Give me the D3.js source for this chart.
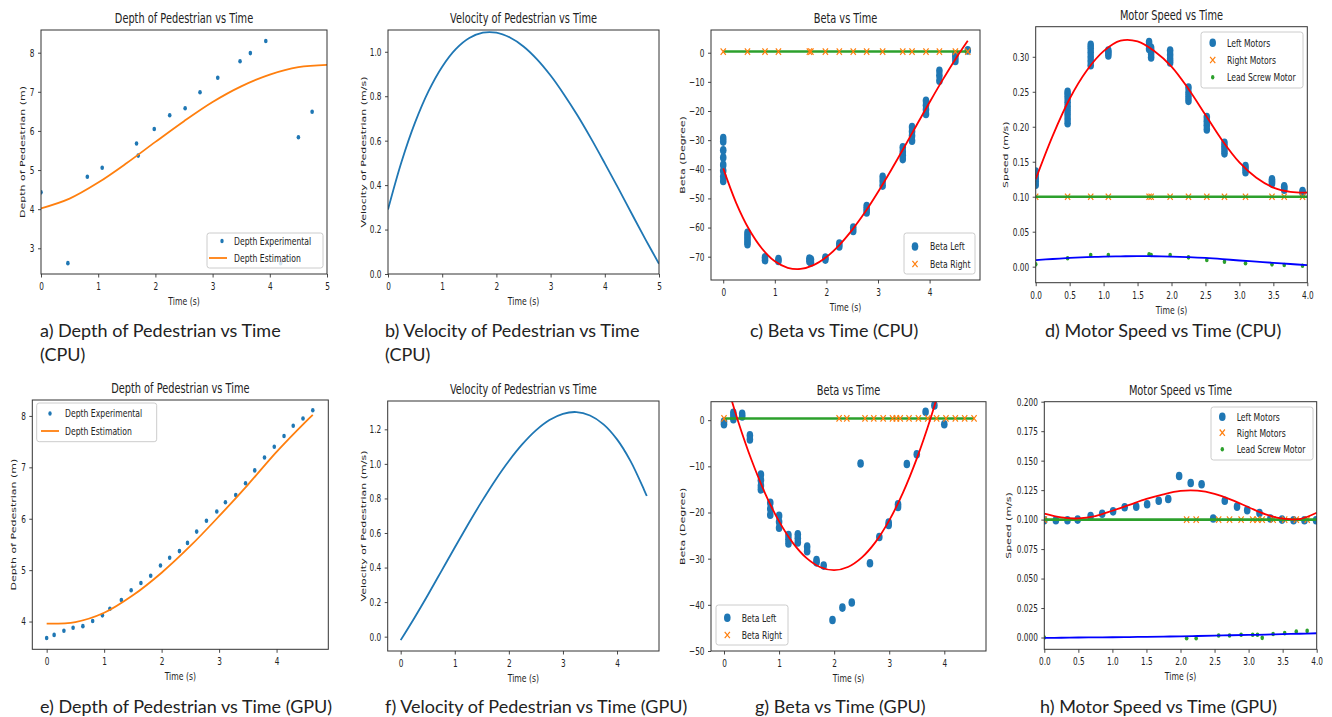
<!DOCTYPE html>
<html>
<head>
<meta charset="utf-8">
<script src="https://cdn.jsdelivr.net/npm/d3@7"></script>
<style>
  body { margin: 0; background: #fff; }
  svg text { font-family: "DejaVu Sans", sans-serif; fill: #222; }
  svg text.cap { font-family: Lato, "Open Sans", sans-serif; fill: #222; }
</style>
</head>
<body>
<svg id="fig" width="1332" height="717"></svg>
<script>
// ---------- a) Depth of Pedestrian vs Time (CPU) ----------
const cpuDepthTime = [0, 0.47, 0.81, 1.07, 1.67, 1.70, 1.98, 2.25, 2.52, 2.78, 3.09, 3.48, 3.66, 3.93, 4.19, 4.50, 4.74];
const cpuDepthMeasured = [4.43, 2.62, 4.83, 5.06, 5.68, 5.37, 6.05, 6.40, 6.58, 6.99, 7.36, 7.78, 7.99, 8.30, 2.62, 5.84, 6.49];
const cpuEstTime = [0, 0.5, 1, 1.5, 2, 2.5, 3, 3.5, 4, 4.5, 5];
const cpuDepthEstimate = [4.02, 4.27, 4.68, 5.18, 5.72, 6.25, 6.74, 7.14, 7.44, 7.63, 7.69];

// ---------- b) Velocity of Pedestrian vs Time (CPU) ----------
const cpuVelTime = [0, 0.25, 0.5, 0.75, 1, 1.25, 1.5, 1.75, 2, 2.25, 2.5, 2.75, 3, 3.25, 3.5, 3.75, 4, 4.25, 4.5, 4.75, 5];
const cpuVelocity = [0.290, 0.505, 0.682, 0.824, 0.933, 1.012, 1.062, 1.086, 1.086, 1.064, 1.024, 0.966, 0.893, 0.807, 0.712, 0.608, 0.498, 0.385, 0.270, 0.156, 0.046];

// ---------- c) Beta vs Time (CPU) ----------
const cpuBetaTime = [0, 0.47, 0.81, 1.07, 1.67, 1.70, 1.98, 2.25, 2.52, 2.78, 3.09, 3.48, 3.66, 3.93, 4.19, 4.50, 4.74];
const cpuBetaLeft = [
  [-29.3, -30.5, -33.5, -36, -38.5, -40.5, -42.5, -44],
  [-61.8, -62.8, -63.8, -64.8, -65.7],
  [-70.2, -71.2],
  [-70.8, -71.5],
  [-70.6, -71.6],
  [-71, -72],
  [-70.3, -71],
  [-65.5, -66.5],
  [-60, -61.2],
  [-52.6, -53.7, -54.8],
  [-42.6, -44, -45.6],
  [-32.5, -34, -35.2, -36.5],
  [-25.5, -27, -28.5, -30.2],
  [-16.5, -18, -19.5, -21],
  [-6.2, -7.8, -9.6],
  [-0.5, -1.5, -2.8],
  [0.8]
];
const cpuBetaRight = [0.4, 0.4, 0.4, 0.4, 0.4, 0.4, 0.4, 0.4, 0.4, 0.4, 0.4, 0.4, 0.4, 0.4, 0.4, 0.4, 0.4];
const cpuBetaFitTime = [0, 0.25, 0.5, 0.75, 1, 1.25, 1.5, 1.75, 2, 2.25, 2.5, 2.75, 3, 3.25, 3.5, 3.75, 4, 4.25, 4.5, 4.74];
const cpuBetaLeftFit = [-39.7, -51.5, -60.6, -67.2, -71.6, -73.8, -74.2, -72.9, -70.1, -66.0, -60.8, -54.7, -47.8, -40.4, -32.7, -24.8, -17.0, -9.4, -2.2, 4.1];
const cpuBetaRightFitTime = [0, 4.74];
const cpuBetaRightFit = [0.4, 0.4];

// ---------- d) Motor Speed vs Time (CPU) ----------
const cpuMotorTime = [0, 0.47, 0.81, 1.07, 1.67, 1.70, 1.98, 2.25, 2.52, 2.78, 3.09, 3.48, 3.66, 3.93];
const cpuLeftMotor = [
  [0.117, 0.122, 0.127, 0.132, 0.136],
  [0.205, 0.211, 0.217, 0.223, 0.229, 0.235, 0.241, 0.246, 0.250],
  [0.288, 0.294, 0.300, 0.306, 0.312, 0.317],
  [0.302, 0.306, 0.309],
  [0.311, 0.316, 0.321],
  [0.299, 0.304, 0.309, 0.313],
  [0.292, 0.297, 0.303, 0.309],
  [0.237, 0.243, 0.249, 0.256],
  [0.196, 0.202, 0.208, 0.214],
  [0.162, 0.167, 0.172, 0.177],
  [0.135, 0.140, 0.144],
  [0.119, 0.122, 0.125],
  [0.110, 0.113, 0.115],
  [0.106, 0.108]
];
const cpuRightMotor = [0.1, 0.1, 0.1, 0.1, 0.1, 0.1, 0.1, 0.1, 0.1, 0.1, 0.1, 0.1, 0.1, 0.1];
const cpuLeadScrew = [0.0033, 0.0120, 0.0167, 0.0167, 0.0176, 0.0167, 0.0167, 0.0133, 0.0095, 0.0071, 0.0048, 0.0033, 0.0024, 0.0014];
const cpuMotorFitTime = [0, 0.25, 0.5, 0.75, 1, 1.25, 1.5, 1.75, 2, 2.25, 2.5, 2.75, 3, 3.25, 3.5, 3.75, 4];
const cpuLeftMotorFit = [0.125, 0.187, 0.240, 0.280, 0.308, 0.323, 0.322, 0.308, 0.286, 0.254, 0.217, 0.180, 0.149, 0.127, 0.113, 0.107, 0.106];
const cpuRightMotorFit = [0.1, 0.1, 0.1, 0.1, 0.1, 0.1, 0.1, 0.1, 0.1, 0.1, 0.1, 0.1, 0.1, 0.1, 0.1, 0.1, 0.1];
const cpuLeadScrewFit = [0.0095, 0.0110, 0.0125, 0.0136, 0.0143, 0.0148, 0.0150, 0.0149, 0.0145, 0.0137, 0.0125, 0.0108, 0.0088, 0.0072, 0.0055, 0.0038, 0.0022];

// ---------- e) Depth of Pedestrian vs Time (GPU) ----------
const gpuDepthTime = [0, 0.13, 0.30, 0.46, 0.63, 0.80, 0.97, 1.10, 1.30, 1.47, 1.64, 1.81, 1.98, 2.14, 2.31, 2.45, 2.61, 2.78, 2.96, 3.11, 3.29, 3.46, 3.62, 3.79, 3.96, 4.13, 4.29, 4.46, 4.63];
const gpuDepthMeasured = [3.68, 3.74, 3.82, 3.88, 3.91, 4.01, 4.12, 4.25, 4.42, 4.61, 4.75, 4.89, 5.09, 5.24, 5.37, 5.53, 5.75, 5.96, 6.14, 6.32, 6.46, 6.69, 6.94, 7.19, 7.40, 7.61, 7.81, 7.95, 8.11];
const gpuEstTime = [0, 0.5, 1, 1.5, 2, 2.5, 3, 3.5, 4, 4.5, 4.63];
const gpuDepthEstimate = [3.96, 3.99, 4.17, 4.51, 4.95, 5.47, 6.05, 6.66, 7.30, 7.88, 8.02];

// ---------- f) Velocity of Pedestrian vs Time (GPU) ----------
const gpuVelTime = [0, 0.25, 0.5, 0.75, 1, 1.25, 1.5, 1.75, 2, 2.25, 2.5, 2.75, 3, 3.25, 3.5, 3.75, 4, 4.25, 4.5, 4.55];
const gpuVelocity = [-0.020, 0.107, 0.240, 0.378, 0.516, 0.652, 0.783, 0.906, 1.017, 1.114, 1.194, 1.254, 1.290, 1.300, 1.280, 1.229, 1.142, 1.016, 0.850, 0.814];

// ---------- g) Beta vs Time (GPU) ----------
const gpuBetaTime = [0, 0.17, 0.33, 0.47, 0.67, 0.84, 1.00, 1.17, 1.34, 1.51, 1.68, 1.81, 1.97, 2.15, 2.32, 2.48, 2.65, 2.82, 2.99, 3.16, 3.32, 3.50, 3.66, 3.82, 4.00];
const gpuBetaLeft = [
  [-0.3, -0.9], [0.2, 0.9, 1.6], [0.8, 1.4], [-3.3, -4.2], [-11.8, -13, -14.2, -15],
  [-17.9, -19.2, -20.5], [-20.7, -22, -23.3], [-24.9, -25.8, -26.7], [-24.7, -25.6, -26.5],
  [-27.4, -28.4], [-30.3, -30.8], [-31.5], [-43.3], [-40.6], [-39.5], [-9.4], [-31], [-25.3],
  [-22.2, -22.7], [-18.2, -18.8], [-9.5], [-7.4], [1.8], [3.2], [-0.9]
];
const gpuRightTime = [0, 2.09, 2.23, 2.56, 2.72, 2.89, 3.06, 3.13, 3.20, 3.36, 3.53, 3.70, 3.86, 4.03, 4.20, 4.37, 4.54];
const gpuBetaRight = [0.4, 0.4, 0.4, 0.4, 0.4, 0.4, 0.4, 0.4, 0.4, 0.4, 0.4, 0.4, 0.4, 0.4, 0.4, 0.4, 0.4];
const gpuBetaFitTime = [0, 0.25, 0.5, 0.75, 1, 1.25, 1.5, 1.75, 2, 2.25, 2.5, 2.75, 3, 3.25, 3.5, 3.75, 4];
const gpuBetaLeftFit = [9.98, 0, -8.64, -15.95, -21.93, -26.57, -29.88, -31.85, -32.49, -31.80, -29.77, -26.41, -21.71, -15.68, -8.32, 0.37, 10.40];
const gpuBetaRightFitTime = [0, 4.54];
const gpuBetaRightFit = [0.35, 0.35];

// ---------- h) Motor Speed vs Time (GPU) ----------
const gpuMotorTime = [0, 0.17, 0.34, 0.49, 0.68, 0.85, 1.01, 1.18, 1.35, 1.51, 1.68, 1.82, 1.98, 2.15, 2.31, 2.48, 2.65, 2.83, 2.98, 3.16, 3.32, 3.49, 3.66, 3.82, 3.99];
const gpuLeftMotor = [0.0994, 0.0995, 0.0995, 0.1000, 0.1030, 0.1050, 0.1070, 0.1105, 0.1110, 0.1130, 0.1160, 0.1175, 0.1370, 0.1310, 0.1300, 0.1010, 0.1160, 0.1110, 0.1080, 0.1055, 0.1010, 0.1000, 0.0995, 0.0995, 0.0995];
const gpuMotorRightTime = [0, 2.09, 2.23, 2.56, 2.72, 2.89, 3.06, 3.13, 3.20, 3.36, 3.53, 3.70, 3.86];
const gpuRightMotor = [0.1, 0.1, 0.1, 0.1, 0.1, 0.1, 0.1, 0.1, 0.1, 0.1, 0.1, 0.1, 0.1];
const gpuLeadScrew = [0.0000, -0.0006, -0.0006, 0.0017, 0.0017, 0.0023, 0.0023, 0.0023, -0.0003, 0.0030, 0.0037, 0.0051, 0.0056];
const gpuMotorFitTime = [0, 0.25, 0.5, 0.75, 1, 1.25, 1.5, 1.75, 2, 2.25, 2.5, 2.75, 3, 3.25, 3.5, 3.75, 4];
const gpuLeftMotorFit = [0.1050, 0.1018, 0.1010, 0.1030, 0.1075, 0.1125, 0.1175, 0.1215, 0.1243, 0.1245, 0.1218, 0.1168, 0.1105, 0.1045, 0.1008, 0.1005, 0.1058];
const gpuRightMotorFit = [0.1, 0.1, 0.1, 0.1, 0.1, 0.1, 0.1, 0.1, 0.1, 0.1, 0.1, 0.1, 0.1, 0.1, 0.1, 0.1, 0.1];
const gpuLeadScrewFit = [-0.0003, -0.0002, 0.0000, 0.0001, 0.0002, 0.0004, 0.0006, 0.0008, 0.0010, 0.0013, 0.0016, 0.0019, 0.0022, 0.0025, 0.0029, 0.0032, 0.0036];

// ---------- tick values ----------
const depthCpuYTicks = [3, 4, 5, 6, 7, 8];
const depthGpuYTicks = [4, 5, 6, 7, 8];
const velCpuYTicks = [0, 0.2, 0.4, 0.6, 0.8, 1.0];
const velGpuYTicks = [0, 0.2, 0.4, 0.6, 0.8, 1.0, 1.2];
const betaCpuYTicks = [-70, -60, -50, -40, -30, -20, -10, 0];
const betaGpuYTicks = [-50, -40, -30, -20, -10, 0];
const speedCpuYTicks = [0, 0.05, 0.10, 0.15, 0.20, 0.25, 0.30];
const speedGpuYTicks = [0, 0.025, 0.05, 0.075, 0.1, 0.125, 0.15, 0.175, 0.2];
const timeTicks5 = [0, 1, 2, 3, 4, 5];
const timeTicks4 = [0, 1, 2, 3, 4];
const timeTicksHalf = [0, 0.5, 1, 1.5, 2, 2.5, 3, 3.5, 4];

// ---------- captions ----------
const captions = [
  ["a) Depth of Pedestrian vs Time", "(CPU)"],
  ["b) Velocity of Pedestrian vs Time", "(CPU)"],
  ["c) Beta vs Time (CPU)"],
  ["d) Motor Speed vs Time (CPU)"],
  ["e) Depth of Pedestrian vs Time (GPU)"],
  ["f) Velocity of Pedestrian vs Time (GPU)"],
  ["g) Beta vs Time (GPU)"],
  ["h) Motor Speed vs Time (GPU)"]
];

// ================= drawing =================
const BLUE = "#1f77b4", ORANGE = "#ff7f0e", GREEN = "#2ca02c", RED = "#ff0000", PURE_BLUE = "#0000ff";
const SX = 0.7;           // horizontal text compression of the figure
const svg = d3.select("#fig");
let clipCount = 0;

function mtext(parent, x, y, str, size, anchor, rotate) {
  return parent.append("text")
    .attr("transform", `translate(${x},${y}) scale(${SX},1)${rotate ? " rotate(-90)" : ""}`)
    .attr("text-anchor", anchor || "middle")
    .attr("font-size", size)
    .text(str);
}

function makePanel(o) {
  const g = svg.append("g");
  const x = d3.scaleLinear().domain(o.xDomain).range([o.left, o.right]);
  const y = d3.scaleLinear().domain(o.yDomain).range([o.bottom, o.top]);
  const id = "clip" + (clipCount++);
  g.append("clipPath").attr("id", id).append("rect")
    .attr("x", o.left).attr("y", o.top)
    .attr("width", o.right - o.left).attr("height", o.bottom - o.top);
  const plot = g.append("g").attr("clip-path", `url(#${id})`);

  const xa = g.append("g").attr("transform", `translate(0,${o.bottom})`)
    .call(d3.axisBottom(x).tickValues(o.xTicks).tickFormat(d3.format(o.xFmt)).tickSize(3.5).tickPadding(5));
  const ya = g.append("g").attr("transform", `translate(${o.left},0)`)
    .call(d3.axisLeft(y).tickValues(o.yTicks).tickFormat(d3.format(o.yFmt)).tickSize(3).tickPadding(6));
  [xa, ya].forEach(a => {
    a.select(".domain").remove();
    a.attr("font-family", null).attr("font-size", null);
    a.selectAll("line").attr("stroke", "#333").attr("stroke-width", 0.9);
    a.selectAll("text").attr("font-size", 10.5).attr("fill", "#222");
  });
  xa.selectAll("text").attr("transform", `scale(${SX},1)`);
  ya.selectAll("text").attr("transform", `scale(${SX},1)`).attr("x", -6.5 / SX);

  g.append("rect").attr("x", o.left).attr("y", o.top)
    .attr("width", o.right - o.left).attr("height", o.bottom - o.top)
    .attr("fill", "none").attr("stroke", "#333").attr("stroke-width", 1);

  mtext(g, (o.left + o.right) / 2, o.top - 7, o.title, 14, "middle");
  mtext(g, (o.left + o.right) / 2, o.bottom + 31, "Time (s)", 11, "middle");
  mtext(g, o.yLabelX, (o.top + o.bottom) / 2, o.yLabel, 11, "middle", true).attr("dy", "0.35em");

  const leg = g.append("g");
  return { g, plot, leg, x, y };
}

function linePath(p, xs, ys, color, width) {
  const pts = xs.map((t, i) => [t, ys[i]]);
  p.plot.append("path").datum(pts)
    .attr("d", d3.line().x(d => p.x(d[0])).y(d => p.y(d[1])).curve(d3.curveCatmullRom.alpha(0.5)))
    .attr("fill", "none").attr("stroke", color).attr("stroke-width", width)
    .attr("stroke-linecap", "butt");
}

function dots(p, xs, ys, color, rx, ry) {
  const pts = xs.map((t, i) => [t, ys[i]]);
  p.plot.selectAll(null).data(pts).enter().append("ellipse")
    .attr("cx", d => p.x(d[0])).attr("cy", d => p.y(d[1]))
    .attr("rx", rx).attr("ry", ry).attr("fill", color);
}

function clusterDots(p, xs, groups, color) {
  const pts = [];
  xs.forEach((t, i) => groups[i].forEach(v => pts.push([t, v])));
  p.plot.selectAll(null).data(pts).enter().append("ellipse")
    .attr("cx", d => p.x(d[0])).attr("cy", d => p.y(d[1]))
    .attr("rx", 3.3).attr("ry", 4.3).attr("fill", color);
}

function crossPath(cx, cy) {
  const hx = 2.6, hy = 3.2;
  return `M${cx - hx},${cy - hy}L${cx + hx},${cy + hy}M${cx - hx},${cy + hy}L${cx + hx},${cy - hy}`;
}

function crosses(p, xs, ys, color) {
  const pts = xs.map((t, i) => [t, ys[i]]);
  p.plot.selectAll(null).data(pts).enter().append("path")
    .attr("d", d => crossPath(p.x(d[0]), p.y(d[1])))
    .attr("stroke", color).attr("stroke-width", 1.2).attr("fill", "none");
}

function legend(p, box, items) {
  p.leg.append("rect").attr("x", box[0]).attr("y", box[1])
    .attr("width", box[2] - box[0]).attr("height", box[3] - box[1])
    .attr("rx", 2.5).attr("fill", "#fff").attr("fill-opacity", 0.8)
    .attr("stroke", "#cccccc").attr("stroke-width", 1);
  items.forEach(it => {
    if (it.kind === "circle") {
      p.leg.append("ellipse").attr("cx", it.mx).attr("cy", it.y).attr("rx", 3.3).attr("ry", 4.3).attr("fill", it.color);
    } else if (it.kind === "dot") {
      p.leg.append("ellipse").attr("cx", it.mx).attr("cy", it.y).attr("rx", 1.7).attr("ry", 2.3).attr("fill", it.color);
    } else if (it.kind === "cross") {
      p.leg.append("path").attr("d", crossPath(it.mx, it.y)).attr("stroke", it.color).attr("stroke-width", 1.2);
    } else if (it.kind === "line") {
      p.leg.append("line").attr("x1", it.mx - 9).attr("x2", it.mx + 9).attr("y1", it.y).attr("y2", it.y)
        .attr("stroke", it.color).attr("stroke-width", 1.8);
    }
    mtext(p.leg, it.tx, it.y, it.label, 11, "start").attr("dy", "0.35em");
  });
}

// ---- a ----
const pa = makePanel({
  left: 41, right: 327, top: 30, bottom: 274,
  xDomain: [0, 5], yDomain: [2.343, 8.58],
  xTicks: timeTicks5, yTicks: depthCpuYTicks, xFmt: "d", yFmt: "d",
  title: "Depth of Pedestrian vs Time", yLabel: "Depth of Pedestrian (m)", yLabelX: 22
});
dots(pa, cpuDepthTime, cpuDepthMeasured, BLUE, 1.8, 2.3);
linePath(pa, cpuEstTime, cpuDepthEstimate, ORANGE, 1.8);
legend(pa, [207, 233, 323, 268], [
  { kind: "dot", color: BLUE, mx: 222, y: 241, tx: 234, label: "Depth Experimental" },
  { kind: "line", color: ORANGE, mx: 218, y: 258, tx: 234, label: "Depth Estimation" }
]);

// ---- b ----
const pb = makePanel({
  left: 388, right: 659, top: 30, bottom: 274,
  xDomain: [0, 5], yDomain: [0, 1.098],
  xTicks: timeTicks5, yTicks: velCpuYTicks, xFmt: "d", yFmt: ".1f",
  title: "Velocity of Pedestrian vs Time", yLabel: "Velocity of Pedestrian (m/s)", yLabelX: 363
});
linePath(pb, cpuVelTime, cpuVelocity, BLUE, 1.8);

// ---- c ----
const pc = makePanel({
  left: 711, right: 980, top: 30, bottom: 280,
  xDomain: [-0.237, 4.977], yDomain: [-78, 7.8],
  xTicks: timeTicks4, yTicks: betaCpuYTicks, xFmt: "d", yFmt: "d",
  title: "Beta vs Time", yLabel: "Beta (Degree)", yLabelX: 682
});
clusterDots(pc, cpuBetaTime, cpuBetaLeft, BLUE);
linePath(pc, cpuBetaRightFitTime, cpuBetaRightFit, GREEN, 2.6);
crosses(pc, cpuBetaTime, cpuBetaRight, ORANGE);
linePath(pc, cpuBetaFitTime, cpuBetaLeftFit, RED, 1.8);
legend(pc, [904, 233, 975, 274], [
  { kind: "circle", color: BLUE, mx: 915, y: 246.5, tx: 930, label: "Beta Left" },
  { kind: "cross", color: ORANGE, mx: 915, y: 264, tx: 930, label: "Beta Right" }
]);

// ---- d ----
const pd = makePanel({
  left: 1035.7, right: 1307.3, top: 26.7, bottom: 282.7,
  xDomain: [0, 4], yDomain: [-0.0229, 0.343],
  xTicks: timeTicksHalf, yTicks: speedCpuYTicks, xFmt: ".1f", yFmt: ".2f",
  title: "Motor Speed vs Time", yLabel: "Speed (m/s)", yLabelX: 1005
});
clusterDots(pd, cpuMotorTime, cpuLeftMotor, BLUE);
crosses(pd, cpuMotorTime, cpuRightMotor, ORANGE);
dots(pd, cpuMotorTime, cpuLeadScrew, GREEN, 1.8, 2.3);
linePath(pd, cpuMotorFitTime, cpuRightMotorFit, GREEN, 2.6);
linePath(pd, cpuMotorFitTime, cpuLeftMotorFit, RED, 1.8);
linePath(pd, cpuMotorFitTime, cpuLeadScrewFit, PURE_BLUE, 1.8);
legend(pd, [1201, 32, 1303, 88], [
  { kind: "circle", color: BLUE, mx: 1212.7, y: 42.7, tx: 1227, label: "Left Motors" },
  { kind: "cross", color: ORANGE, mx: 1212.7, y: 60, tx: 1227, label: "Right Motors" },
  { kind: "dot", color: GREEN, mx: 1212.7, y: 77.3, tx: 1227, label: "Lead Screw Motor" }
]);

// ---- e ----
const pe = makePanel({
  left: 32.3, right: 328.3, top: 400, bottom: 649.3,
  xDomain: [-0.25, 4.9], yDomain: [3.46, 8.31],
  xTicks: timeTicks4, yTicks: depthGpuYTicks, xFmt: "d", yFmt: "d",
  title: "Depth of Pedestrian vs Time", yLabel: "Depth of Pedestrian (m)", yLabelX: 13
});
dots(pe, gpuDepthTime, gpuDepthMeasured, BLUE, 1.8, 2.3);
linePath(pe, gpuEstTime, gpuDepthEstimate, ORANGE, 1.8);
legend(pe, [36.7, 403, 156.7, 441.7], [
  { kind: "dot", color: BLUE, mx: 50, y: 413.5, tx: 65, label: "Depth Experimental" },
  { kind: "line", color: ORANGE, mx: 50, y: 431, tx: 65, label: "Depth Estimation" }
]);

// ---- f ----
const pf = makePanel({
  left: 387.7, right: 659, top: 401, bottom: 651,
  xDomain: [-0.24, 4.776], yDomain: [-0.083, 1.364],
  xTicks: timeTicks4, yTicks: velGpuYTicks, xFmt: "d", yFmt: ".1f",
  title: "Velocity of Pedestrian vs Time", yLabel: "Velocity of Pedestrian (m/s)", yLabelX: 363
});
linePath(pf, gpuVelTime, gpuVelocity, BLUE, 1.8);

// ---- g ----
const pg = makePanel({
  left: 711, right: 986, top: 401.7, bottom: 651,
  xDomain: [-0.236, 4.757], yDomain: [-50, 4],
  xTicks: timeTicks4, yTicks: betaGpuYTicks, xFmt: "d", yFmt: "d",
  title: "Beta vs Time", yLabel: "Beta (Degree)", yLabelX: 682
});
clusterDots(pg, gpuBetaTime, gpuBetaLeft, BLUE);
linePath(pg, gpuBetaRightFitTime, gpuBetaRightFit, GREEN, 2.6);
crosses(pg, gpuRightTime, gpuBetaRight, ORANGE);
linePath(pg, gpuBetaFitTime, gpuBetaLeftFit, RED, 1.8);
legend(pg, [716, 605, 788, 645], [
  { kind: "circle", color: BLUE, mx: 727.3, y: 617.7, tx: 741.7, label: "Beta Left" },
  { kind: "cross", color: ORANGE, mx: 727.3, y: 635, tx: 741.7, label: "Beta Right" }
]);

// ---- h ----
const ph = makePanel({
  left: 1044.3, right: 1316.7, top: 401.7, bottom: 649.3,
  xDomain: [0, 4], yDomain: [-0.01, 0.2],
  xTicks: timeTicksHalf, yTicks: speedGpuYTicks, xFmt: ".1f", yFmt: ".3f",
  title: "Motor Speed vs Time", yLabel: "Speed (m/s)", yLabelX: 1008
});
dots(ph, gpuMotorTime, gpuLeftMotor, BLUE, 3.3, 4.3);
crosses(ph, gpuMotorRightTime, gpuRightMotor, ORANGE);
dots(ph, gpuMotorRightTime, gpuLeadScrew, GREEN, 1.8, 2.3);
linePath(ph, gpuMotorFitTime, gpuRightMotorFit, GREEN, 2.6);
linePath(ph, gpuMotorFitTime, gpuLeftMotorFit, RED, 1.8);
linePath(ph, gpuMotorFitTime, gpuLeadScrewFit, PURE_BLUE, 1.8);
legend(ph, [1211, 407, 1313, 460], [
  { kind: "circle", color: BLUE, mx: 1222.3, y: 416.7, tx: 1236.7, label: "Left Motors" },
  { kind: "cross", color: ORANGE, mx: 1222.3, y: 432.7, tx: 1236.7, label: "Right Motors" },
  { kind: "dot", color: GREEN, mx: 1222.3, y: 449.3, tx: 1236.7, label: "Lead Screw Motor" }
]);

// ---- captions ----
const capX = [40, 385, 750, 1045, 40, 385, 755, 1040];
const capY = [337, 337, 337, 337, 713, 713, 713, 713];
captions.forEach((lines, i) => {
  lines.forEach((s, j) => {
    svg.append("text").attr("class", "cap")
      .attr("x", capX[i]).attr("y", capY[i] + j * 24)
      .attr("font-size", 18).text(s);
  });
});
</script>
</body>
</html>
